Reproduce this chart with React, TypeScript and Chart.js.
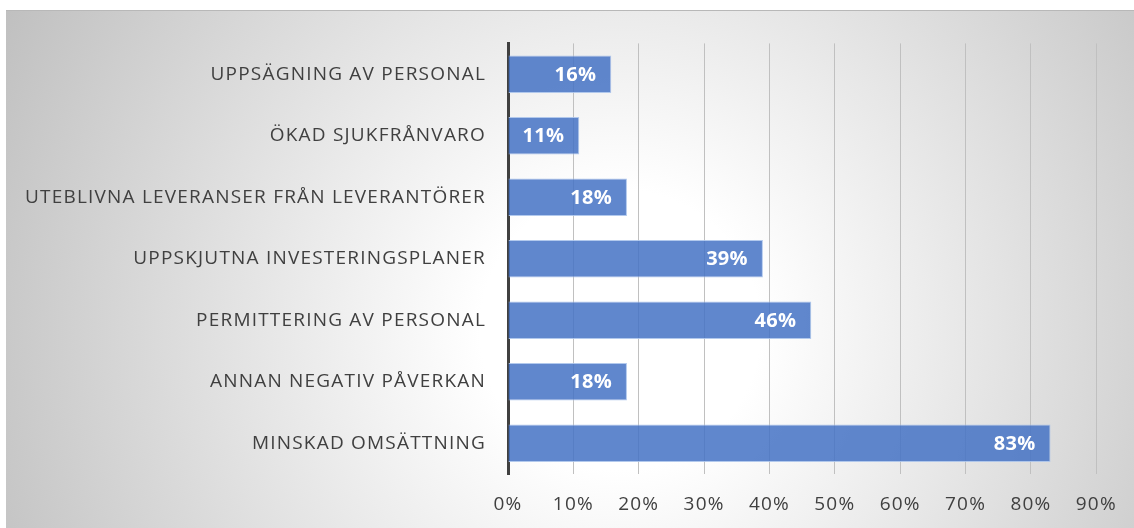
import React, { useEffect, useRef } from "react";
import { Chart, registerables } from "chart.js";

Chart.register(...registerables);

const categories = [
  "UPPSÄGNING AV PERSONAL",
  "ÖKAD SJUKFRÅNVARO",
  "UTEBLIVNA LEVERANSER FRÅN LEVERANTÖRER",
  "UPPSKJUTNA INVESTERINGSPLANER",
  "PERMITTERING AV PERSONAL",
  "ANNAN NEGATIV PÅVERKAN",
  "MINSKAD OMSÄTTNING",
];
const values = [15.8, 10.9, 18.2, 39.0, 46.4, 18.2, 83.0];
const axisMax = 90;
const axisStep = 10;

const FONT = "'Open Sans', 'DejaVu Sans', sans-serif";

const bgPlugin = {
  id: "bgGradient",
  beforeDraw(chart: any) {
    const { ctx, width, height } = chart;
    ctx.save();
    const g = ctx.createRadialGradient(614, 320, 0, 614, 320, 700);
    g.addColorStop(0, "#ffffff");
    g.addColorStop(0.2, "#ffffff");
    g.addColorStop(1, "#bfbfbf");
    ctx.fillStyle = g;
    ctx.fillRect(0, 0, width, height);
    ctx.fillStyle = "#b8b8b8";
    ctx.fillRect(0, 0, width, 1);
    ctx.restore();
    ctx.letterSpacing = "1.2px";
  },
};

const labelPlugin = {
  id: "barLabels",
  afterDatasetsDraw(chart: any) {
    const { ctx } = chart;
    const meta = chart.getDatasetMeta(0);
    ctx.save();
    ctx.letterSpacing = "0.3px";
    ctx.font = `bold 20px ${FONT}`;
    ctx.fillStyle = "#ffffff";
    ctx.textAlign = "right";
    ctx.textBaseline = "middle";
    meta.data.forEach((bar: any, i: number) => {
      const v = chart.data.datasets[0].data[i];
      ctx.fillText(Math.round(v) + "%", bar.x - 15, bar.y + 1);
    });
    ctx.restore();
  },
};

export default function App() {
  const ref = useRef<HTMLCanvasElement | null>(null);
  useEffect(() => {
    if (!ref.current) return;
    const chart = new Chart(ref.current, {
      type: "bar",
      data: {
        labels: categories,
        datasets: [
          {
            data: values,
            backgroundColor: "rgba(68,114,196,0.85)",
            borderColor: "rgba(170,195,235,0.9)",
            borderWidth: 1,
            barPercentage: 0.61,
            categoryPercentage: 1,
          },
        ],
      },
      options: {
        indexAxis: "y",
        responsive: false,
        animation: false,
        layout: { padding: { top: 30, right: 34, left: 0, bottom: 0 } },
        plugins: {
          legend: { display: false },
          tooltip: { enabled: false },
          title: { display: false },
        },
        scales: {
          x: {
            min: 0,
            max: axisMax,
            ticks: {
              stepSize: axisStep,
              callback: (v: any) => v + "%",
              color: "#404040",
              font: { family: FONT, size: 19 },
              padding: 19,
            },
            grid: { color: "#c0c0c0", lineWidth: 1, drawTicks: false },
            border: { display: false },
            afterFit: (s: any) => {
              s.height = 54;
            },
          },
          y: {
            ticks: {
              color: "#404040",
              font: { family: FONT, size: 19 },
              padding: 22,
            },
            grid: { display: false, drawTicks: false },
            border: { display: true, color: "#404040", width: 3 },
            afterFit: (s: any) => {
              s.width = 502;
            },
          },
        },
      },
      plugins: [bgPlugin, labelPlugin],
    });
    return () => chart.destroy();
  }, []);
  return (
    <div
      style={{
        position: "absolute",
        left: 0,
        top: 0,
        width: 1134,
        height: 528,
        background: "#ffffff",
        overflow: "hidden",
      }}
    >
      <canvas
        ref={ref}
        width={1128}
        height={518}
        style={{ position: "absolute", left: 6, top: 10, width: 1128, height: 518 }}
      />
    </div>
  );
}
